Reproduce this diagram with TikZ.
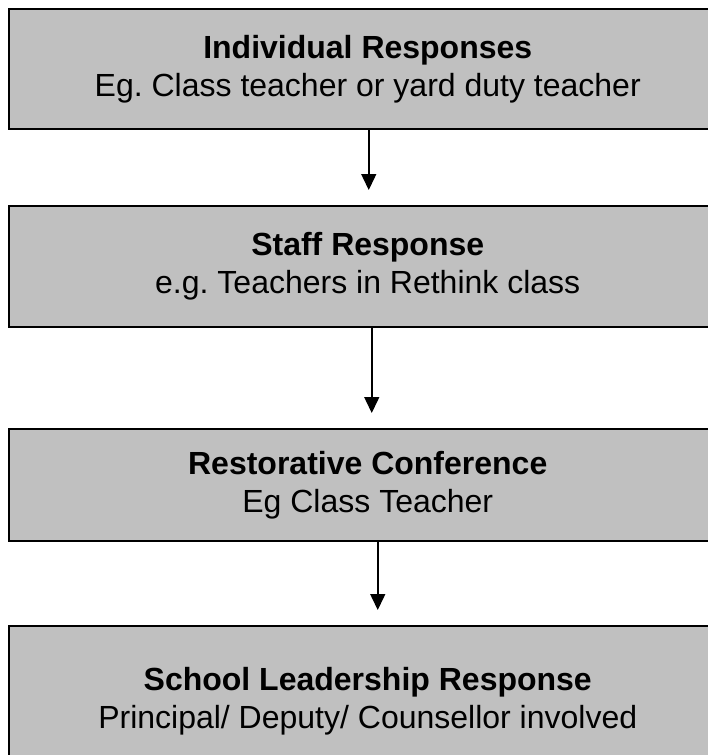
\documentclass[tikz,border=0pt]{standalone}
\usepackage{fontspec}
\setmainfont{Liberation Sans}
\usepackage{tikz}
\usetikzlibrary{positioning,arrows.meta}
\frenchspacing

\begin{document}
\begin{tikzpicture}[x=1pt,y=1pt,
  stagebox/.style={draw,line width=1.5pt,fill=stagegray,anchor=north west,inner sep=0pt,minimum width=718pt,align=center,font=\fontsize{32}{38}\selectfont},
  flowarrow/.style={line width=1.5pt,-{Triangle[length=16pt,width=15pt]},shorten >=15pt}]
 \definecolor{stagegray}{RGB}{192,192,192}
 \useasboundingbox (0,0) rectangle (707,-755);
 \node[stagebox,minimum height=120pt] (indiv) at (8,-8) {\textbf{Individual Responses}\\Eg. Class teacher or yard duty teacher};
 \node[stagebox,minimum height=121pt] (staff) at (8,-205) {\textbf{Staff Response}\\e.g. Teachers in Rethink class};
 \node[stagebox,minimum height=112pt] (restor) at (8,-428) {\textbf{Restorative Conference}\\Eg Class Teacher};
 \node[stagebox,minimum height=150pt] (leader) at (8,-625) {\textbf{School Leadership Response}\\Principal/ Deputy/ Counsellor involved};
 \draw[flowarrow] ([xshift=1pt]indiv.south) -- ([xshift=1pt]staff.north);
 \draw[flowarrow] ([xshift=4pt]staff.south) -- ([xshift=4pt]restor.north);
 \draw[flowarrow] ([xshift=10pt]restor.south) -- ([xshift=10pt]leader.north);
\end{tikzpicture}
\end{document}
